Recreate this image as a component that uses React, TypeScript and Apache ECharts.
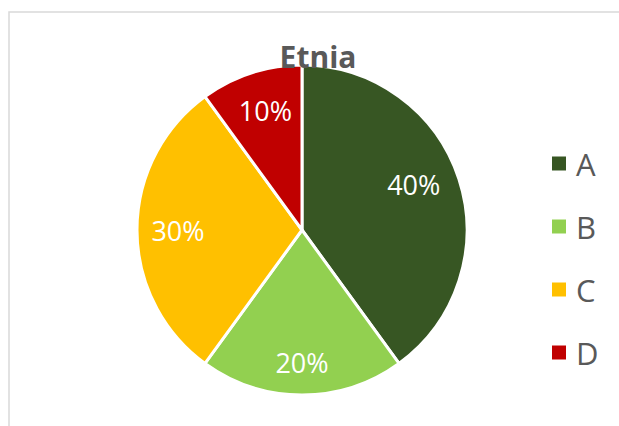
import React, { useEffect, useRef } from "react";
import * as echarts from "echarts";

const categories = ["A", "B", "C", "D"];
const values = [40, 20, 30, 10];
const colors = ["#375623", "#92D050", "#FFC000", "#C00000"];
const titleText = "Etnia";

export default function App() {
  const ref = useRef<HTMLDivElement>(null);
  useEffect(() => {
    if (!ref.current) return;
    const chart = echarts.init(ref.current, null, { renderer: "svg" });
    const data = categories.map((c, i) => ({
      name: c,
      value: values[i],
      itemStyle: { color: colors[i] },
    }));
    const labelNudge = [
      [-10, -6],
      [0, 4],
      [4, 0],
      [3, 2],
    ];
    chart.setOption({
      animation: false,
      backgroundColor: "#ffffff",
      legend: {
        orient: "vertical",
        left: 545,
        top: 143,
        icon: "rect",
        itemWidth: 16,
        itemHeight: 16,
        itemGap: 32,
        data: categories.map((c, i) => ({ name: c, itemStyle: { color: colors[i] } })),
        textStyle: {
          fontFamily: "Open Sans",
          fontSize: 31,
          lineHeight: 30,
          color: "#595959",
          padding: [0, 0, 0, 4],
        },
        selectedMode: false,
      },
      graphic: [
        {
          type: "rect",
          shape: { x: 9, y: 12, width: 700, height: 500 },
          style: { fill: "none", stroke: "#d9d9d9", lineWidth: 1.5 },
          silent: true,
          z: -10,
        },
        {
          type: "text",
          x: 318,
          y: 56,
          z: 100,
          style: {
            text: titleText,
            fill: "#595959",
            font: "bold 30px 'Open Sans'",
            textAlign: "center",
            textVerticalAlign: "middle",
          },
        },
      ],
      series: [
        {
          type: "pie",
          center: [302, 230],
          radius: 165,
          startAngle: 90,
          clockwise: true,
          data,
          label: { show: false },
          labelLine: { show: false },
          itemStyle: { borderColor: "#ffffff", borderWidth: 3 },
          emphasis: { disabled: true },
        },
        {
          type: "pie",
          center: [302, 230],
          radius: 250,
          startAngle: 90,
          clockwise: true,
          silent: true,
          data: categories.map((c, i) => ({ name: c, value: values[i] })),
          itemStyle: { color: "rgba(0,0,0,0)" },
          label: {
            show: true,
            position: "inside",
            formatter: (p: any) => p.value + "%",
            color: "#ffffff",
            fontFamily: "Open Sans",
            fontSize: 27,
          },
          labelLayout: (p: any) => ({
            dx: labelNudge[p.dataIndex][0],
            dy: labelNudge[p.dataIndex][1],
          }),
          labelLine: { show: false },
          emphasis: { disabled: true },
          z: 5,
        },
      ],
    });
    return () => chart.dispose();
  }, []);
  return (
    <div
      ref={ref}
      style={{ position: "fixed", left: 0, top: 0, width: 619, height: 426 }}
    />
  );
}
